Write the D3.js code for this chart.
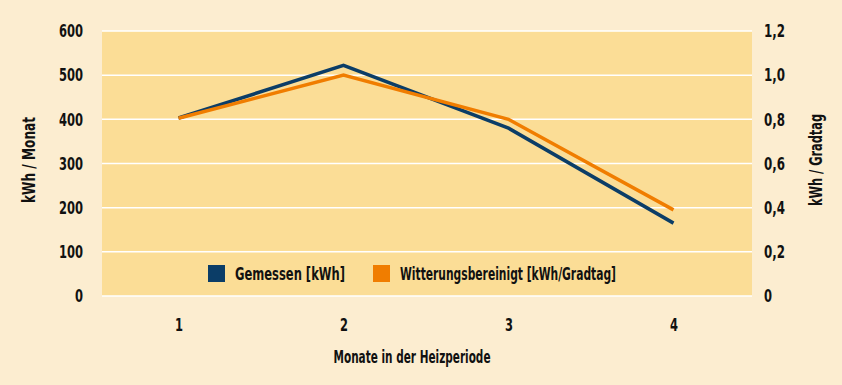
<!DOCTYPE html>
<html>
<head>
<meta charset="utf-8">
<script src="https://cdn.jsdelivr.net/npm/d3@7"></script>
<style>
  body { margin: 0; background: #fcedd0; }
  svg text { font-family: "DejaVu Sans Condensed", "Liberation Sans Narrow", sans-serif; font-weight: bold; fill: #111; }
</style>
</head>
<body>
<div id="chart"></div>
<script>
var months = ["1", "2", "3", "4"];
var gemessen = [403, 522, 380, 165];
var bereinigt = [0.805, 1.0, 0.80, 0.39];
var leftTicks = [0, 100, 200, 300, 400, 500, 600];
var rightTicks = [0, 0.2, 0.4, 0.6, 0.8, 1.0, 1.2];

var width = 842, height = 385;
var margin = { top: 31, right: 90, bottom: 89, left: 102 };

var svg = d3.select("#chart").append("svg")
    .attr("width", width)
    .attr("height", height);

svg.append("rect").attr("width", width).attr("height", height).attr("fill", "#fcedd0");

var x = d3.scalePoint().domain(months)
    .range([margin.left - 6, width - margin.right + 4]).padding(0.5);
var yL = d3.scaleLinear().domain([0, 600]).range([height - margin.bottom, margin.top]);
var yR = d3.scaleLinear().domain([0, 1.2]).range([height - margin.bottom, margin.top]);

svg.append("rect")
    .attr("x", margin.left).attr("y", margin.top)
    .attr("width", width - margin.left - margin.right)
    .attr("height", height - margin.top - margin.bottom)
    .attr("fill", "#fbdd96");

svg.selectAll(".grid").data(leftTicks).enter().append("line")
    .attr("x1", margin.left).attr("x2", width - margin.right)
    .attr("y1", function (d) { return yL(d); })
    .attr("y2", function (d) { return yL(d); })
    .attr("stroke", "#fff").attr("stroke-width", 1.5);

var left = svg.append("g").attr("transform", "translate(" + (margin.left - 19) + ",0)")
    .call(d3.axisLeft(yL).tickValues(leftTicks).tickSize(0).tickPadding(0));
var right = svg.append("g").attr("transform", "translate(" + (width - margin.right + 12) + ",0)")
    .call(d3.axisRight(yR).tickValues(rightTicks).tickSize(0).tickPadding(0)
      .tickFormat(function (d) { return d === 0 ? "0" : d3.format(".1f")(d).replace(".", ","); }));
var bottom = svg.append("g").attr("transform", "translate(0," + (height - margin.bottom + 20) + ")")
    .call(d3.axisBottom(x).tickSize(0).tickPadding(0));

[left, right, bottom].forEach(function (g) {
  g.select(".domain").remove();
  g.selectAll("text").style("font-size", "18px").attr("fill", "#111")
    .attr("textLength", function () { var t = this.textContent; return t.length * 8 - (t.indexOf(",") >= 0 ? 3 : 0); })
    .attr("lengthAdjust", "spacingAndGlyphs");
});
bottom.selectAll("text").attr("dy", "0.85em");

var line = function (ys, vals) {
  return d3.line()
    .x(function (d, i) { return x(months[i]); })
    .y(function (d) { return ys(d); })(vals);
};

svg.append("path").attr("d", line(yL, gemessen))
    .attr("fill", "none").attr("stroke", "#0b3d67").attr("stroke-width", 3.5);
svg.append("path").attr("d", line(yR, bereinigt))
    .attr("fill", "none").attr("stroke", "#f07d00").attr("stroke-width", 3.5);

// legend
var legend = [
  { label: "Gemessen [kWh]", color: "#0b3d67", x: 208, len: 110 },
  { label: "Witterungsbereinigt [kWh/Gradtag]", color: "#f07d00", x: 373, len: 216 }
];
var lg = svg.selectAll(".lg").data(legend).enter().append("g")
    .attr("transform", function (d) { return "translate(" + d.x + ",265)"; });
lg.append("rect").attr("width", 17).attr("height", 17).attr("fill", function (d) { return d.color; });
lg.append("text").attr("x", 27).attr("y", 15).style("font-size", "18px")
    .attr("textLength", function (d) { return d.len; }).attr("lengthAdjust", "spacingAndGlyphs")
    .text(function (d) { return d.label; });

svg.append("text").attr("x", 412).attr("y", 363)
    .attr("text-anchor", "middle").style("font-size", "18px")
    .attr("textLength", 157).attr("lengthAdjust", "spacingAndGlyphs")
    .text("Monate in der Heizperiode");

svg.append("text").attr("transform", "translate(35," + yL(308) + ") rotate(-90)")
    .attr("text-anchor", "middle").style("font-size", "17px")
    .attr("textLength", 86).attr("lengthAdjust", "spacingAndGlyphs").text("kWh / Monat");
svg.append("text").attr("transform", "translate(822," + yL(308) + ") rotate(-90)")
    .attr("text-anchor", "middle").style("font-size", "17px")
    .attr("textLength", 92).attr("lengthAdjust", "spacingAndGlyphs").text("kWh / Gradtag");
</script>
</body>
</html>
